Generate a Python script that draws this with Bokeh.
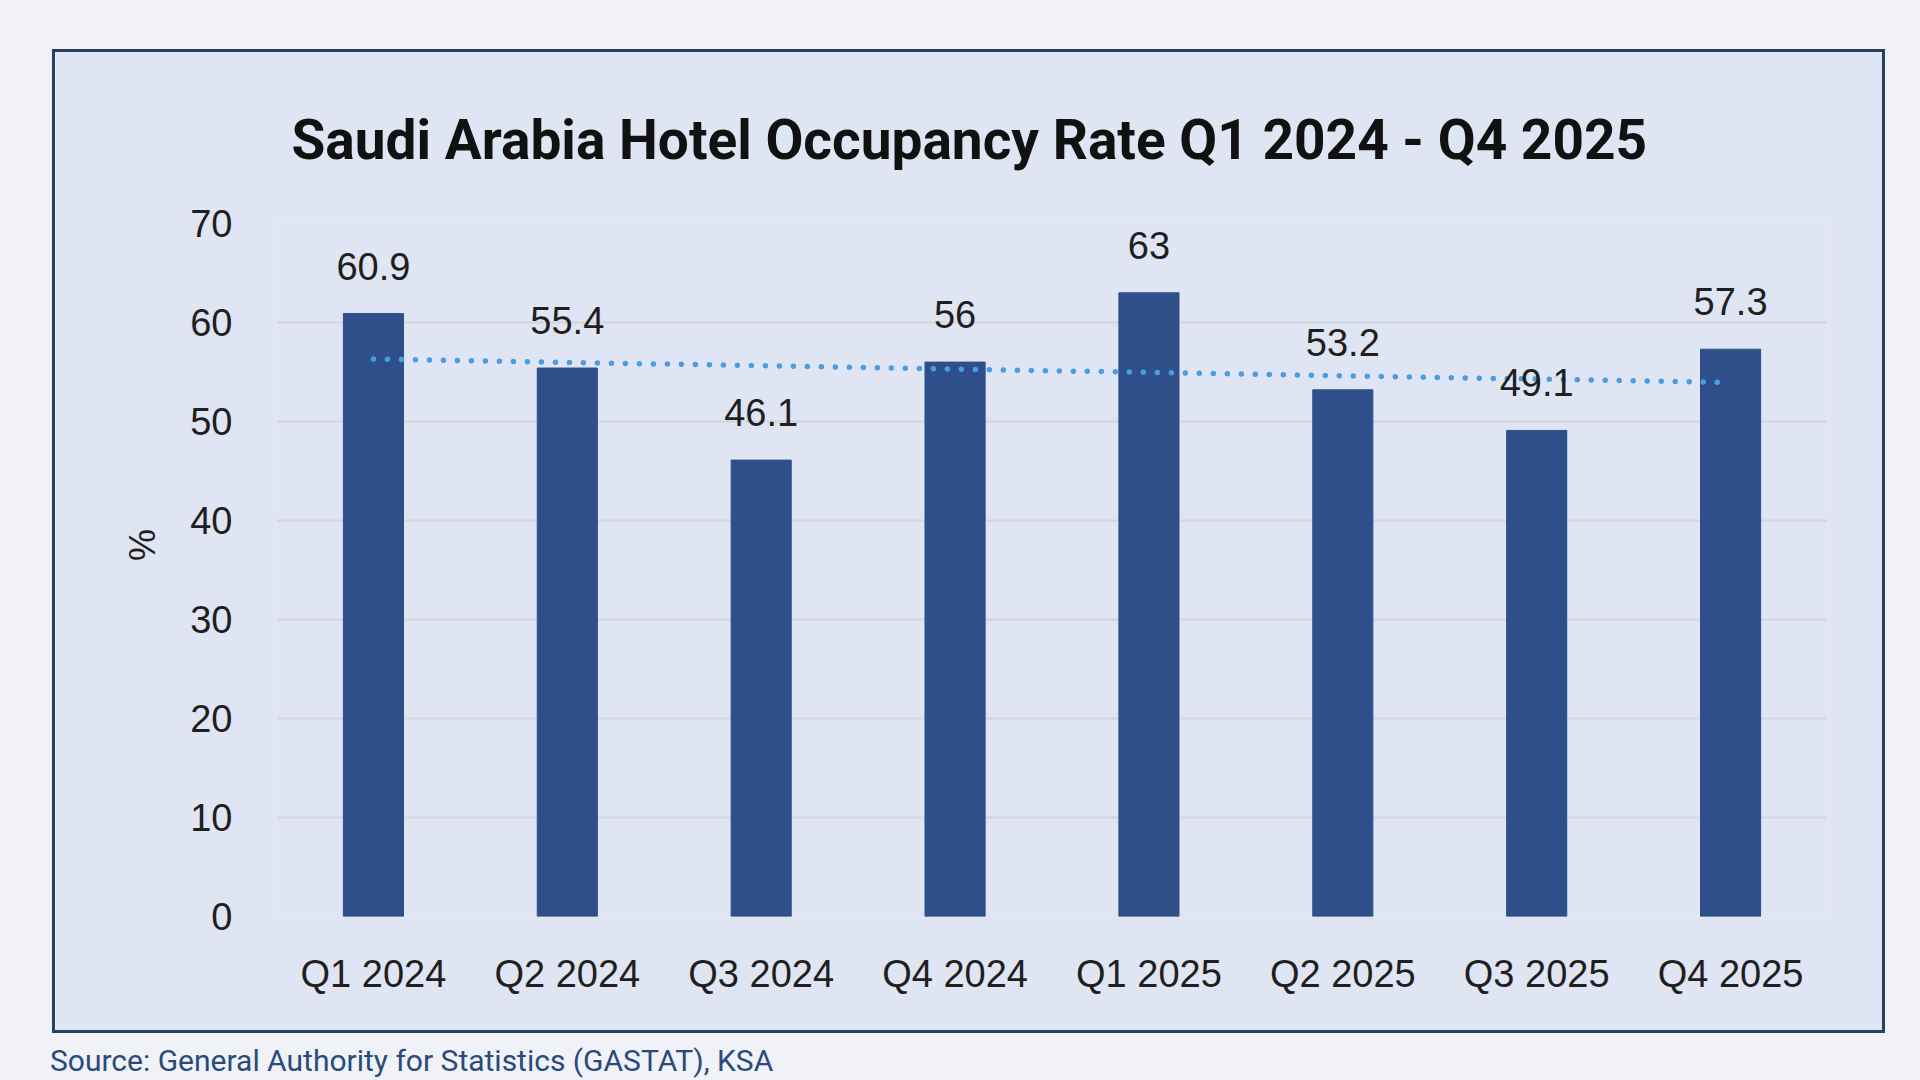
import numpy as np
from bokeh.plotting import figure
from bokeh.models import ColumnDataSource, LabelSet, Title, Div, Column, InlineStyleSheet, Range1d, FixedTicker
from bokeh.core.properties import value
from bokeh.embed import file_html
from bokeh.resources import INLINE

# ---- data ----
quarters = ["Q1 2024", "Q2 2024", "Q3 2024", "Q4 2024", "Q1 2025", "Q2 2025", "Q3 2025", "Q4 2025"]
occupancy = [60.9, 55.4, 46.1, 56, 63, 53.2, 49.1, 57.3]
label_text = ["60.9", "55.4", "46.1", "56", "63", "53.2", "49.1", "57.3"]
y_ticks = [0, 10, 20, 30, 40, 50, 60, 70]
title_text = "Saudi Arabia Hotel Occupancy Rate Q1 2024 - Q4 2025"
y_label = "%"
source_text = "Source: General Authority for Statistics (GASTAT), KSA"

# linear trend (fitted from the data)
idx = np.arange(1, len(occupancy) + 1)
slope, intercept = np.polyfit(idx, occupancy, 1)
trend = list(slope * idx + intercept)

PAGE_BG = "#f0f2f7"
FRAME_BG = "#dfe5f2"
BORDER = "#26405f"
BAR = "#2f4f8a"
TREND = "#4b9de3"
GRID = "#d2d6dd"
TXT = "#1f1f1f"

src = ColumnDataSource(dict(q=quarters, v=occupancy, lab=label_text, t=trend))

p = figure(x_range=quarters, width=1833, height=984, output_backend="svg",
           toolbar_location=None, min_border_left=221, min_border_right=61,
           min_border_top=171, min_border_bottom=120, title_location=None,
           background_fill_color=FRAME_BG, border_fill_color=FRAME_BG,
           outline_line_color=None)
p.stylesheets = [InlineStyleSheet(css=":host { border: 3px solid %s; box-sizing: border-box; }" % BORDER)]
p.margin = (49, 0, 0, 52)

p.y_range = Range1d(0, 70)

p.vbar(x="q", top="v", width=0.31, source=src, color=BAR)
p.line(x="q", y="t", source=src, line_color=TREND, line_width=5.5,
       line_dash="0 14", line_cap="round")

labels = LabelSet(x="q", y="v", text="lab", source=src, text_align="center",
                  text_baseline="alphabetic", y_offset=34, text_font_size=value("38px"),
                  text_font=value("Liberation Sans"), text_color=TXT)
p.add_layout(labels)

main_title = Title(text=title_text, align="left", offset=15, standoff=104,
                   text_font="Roboto", text_font_style="bold", text_font_size="55px",
                   text_color="#111111")
p.add_layout(main_title, "above")

# axes
for ax in (p.xaxis[0], p.yaxis[0]):
    ax.axis_line_color = None
    ax.major_tick_line_color = None
    ax.minor_tick_line_color = None
    ax.major_tick_out = 0
    ax.major_tick_in = 0
    ax.major_label_text_font = "Liberation Sans"
    ax.major_label_text_font_size = "38px"
    ax.major_label_text_color = TXT

p.xaxis.major_label_standoff = 36
p.yaxis.major_label_standoff = 44
p.yaxis.ticker = FixedTicker(ticks=y_ticks)
p.yaxis.axis_label = "\u00a0" * 5 + y_label
p.yaxis.axis_label_text_font = "Liberation Sans"
p.yaxis.axis_label_text_font_style = "normal"
p.yaxis.axis_label_text_font_size = "36px"
p.yaxis.axis_label_text_color = TXT
p.yaxis.axis_label_standoff = 24

p.xgrid.grid_line_color = None
p.ygrid.grid_line_color = GRID
p.ygrid.grid_line_width = 2

p.x_range.range_padding = 0

src_div = Div(text=source_text, margin=(13, 0, 0, 50),
              styles={"font-family": "Roboto", "font-size": "30px", "color": "#2a4a7b",
                      "white-space": "nowrap", "line-height": "30px"})

layout = Column(children=[p, src_div], width=1920, height=1080, spacing=0,
                styles={"background-color": PAGE_BG})

open("out.html", "w").write(file_html(layout, INLINE))
